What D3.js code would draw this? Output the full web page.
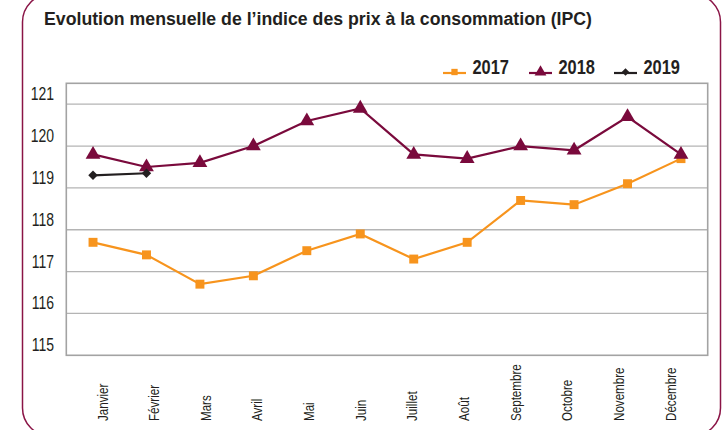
<!DOCTYPE html>
<html><head><meta charset="utf-8">
<script src="https://cdn.jsdelivr.net/npm/d3@7"></script>
<style>
html,body{margin:0;padding:0;background:#fff;}
svg{display:block;}
text{font-family:"Liberation Sans",Arial,sans-serif;}
</style></head>
<body>
<svg id="chart" width="724" height="430"></svg>
<script>
const months = ["Janvier","Février","Mars","Avril","Mai","Juin","Juillet","Août","Septembre","Octobre","Novembre","Décembre"];
const s2017 = [117.7,117.4,116.7,116.9,117.5,117.9,117.3,117.7,118.7,118.6,119.1,119.7];
const s2018 = [119.8,119.5,119.6,120.0,120.6,120.9,119.8,119.7,120.0,119.9,120.7,119.8];
const s2019 = [119.3,119.35];
const yTicks = [115,116,117,118,119,120,121];
const seriesNames = ["2017","2018","2019"];
const colors = ["#f7941d","#7a0a3c","#231f20"];
const title = "Evolution mensuelle de l\u2019indice des prix à la consommation (IPC)";

const svg = d3.select("#chart");

function narrow(sel, f){
  sel.each(function(){
    const w = this.getComputedTextLength();
    d3.select(this).attr("textLength", w*f).attr("lengthAdjust","spacingAndGlyphs");
  });
}

// card border
svg.append("rect").attr("x",22.5).attr("y",-6).attr("width",698).attr("height",442)
  .attr("rx",28).attr("ry",28).attr("fill","none").attr("stroke","#8a1446").attr("stroke-width",1.5);

svg.append("text").attr("x",44).attr("y",25).attr("font-weight","bold").attr("font-size",18)
  .attr("fill","#231f20").attr("textLength",548).attr("lengthAdjust","spacingAndGlyphs").text(title);

const plot = {l:66.3, r:707.7, t:83.3, b:355.3};
const x = d3.scaleBand().domain(months).range([plot.l, plot.r]);
const cx = m => x(m) + x.bandwidth()/2;
const y = d3.scaleLinear().domain([115,121.5]).range([plot.b, plot.t]);
const xl = d3.scalePoint().domain(months).range([107.5, 675.5]);

// gridlines
svg.append("g").selectAll("line").data(yTicks.slice(1)).join("line")
  .attr("x1",plot.l).attr("x2",plot.r).attr("y1",d=>y(d)).attr("y2",d=>y(d))
  .attr("stroke","#b4b4b4").attr("stroke-width",1.3);

// frame
svg.append("rect").attr("x",plot.l).attr("y",plot.t).attr("width",plot.r-plot.l).attr("height",plot.b-plot.t)
  .attr("fill","none").attr("stroke","#a3a3a3").attr("stroke-width",1.6);

// y labels
const yAxis = d3.axisLeft(y).tickValues(yTicks).tickSize(0).tickPadding(0).tickFormat(d3.format("d"));
const ga = svg.append("g").attr("transform",`translate(54,0)`).call(yAxis);
ga.select(".domain").remove();
ga.selectAll("text").attr("font-size",17.5).attr("fill","#231f20")
  .attr("font-family","'Liberation Sans',sans-serif").attr("dy","-0.26em").call(narrow,0.8);

// x labels
svg.append("g").selectAll("text").data(months).join("text")
  .attr("transform",d=>`translate(${xl(d)},421) rotate(-90)`)
  .attr("text-anchor","start").attr("font-size",14.5).attr("fill","#231f20").text(d=>d).call(narrow,0.8);

const line = d3.line().x((d,i)=>cx(months[i])).y(d=>y(d));
const allSeries = [s2017,s2018,s2019];
const symbols = [d3.symbolSquare, d3.symbolTriangle, d3.symbolSquare];
const rot = [0,0,45];
const sizes = [80, 95, 45];
allSeries.forEach((s,k)=>{
  svg.append("path").datum(s).attr("d",line).attr("fill","none")
    .attr("stroke",colors[k]).attr("stroke-width",2.2);
});
allSeries.forEach((s,k)=>{
  svg.append("g").selectAll("path").data(s).join("path")
    .attr("d",d3.symbol().type(symbols[k]).size(sizes[k]))
    .attr("transform",(d,i)=>`translate(${cx(months[i])},${y(d)}) rotate(${rot[k]})`)
    .attr("fill",colors[k]);
});

// legend
const legX = [443, 529, 614];
const leg = svg.append("g");
seriesNames.forEach((n,k)=>{
  const g = leg.append("g").attr("transform",`translate(${legX[k]},74)`);
  g.append("line").attr("x1",0).attr("x2",23).attr("y1",-1).attr("y2",-1).attr("stroke",colors[k]).attr("stroke-width",2.2);
  g.append("path").attr("d",d3.symbol().type(symbols[k]).size([40,60,28][k])).attr("transform",`translate(11.5,-2) rotate(${rot[k]})`).attr("fill",colors[k]);
  g.append("text").attr("x",29.5).attr("y",0).attr("font-weight","bold").attr("font-size",20).attr("fill","#231f20").text(n).call(narrow,0.82);
});
</script>
</body></html>
